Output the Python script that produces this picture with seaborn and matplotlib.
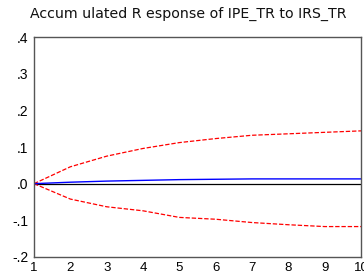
import matplotlib
matplotlib.use("Agg")
import matplotlib.pyplot as plt
import seaborn as sns
import pandas as pd

periods = [1, 2, 3, 4, 5, 6, 7, 8, 9, 10]
response = [0.0, 0.004, 0.007, 0.009, 0.011, 0.012, 0.013, 0.013, 0.013, 0.013]
upper = [0.0, 0.046, 0.075, 0.096, 0.112, 0.123, 0.132, 0.136, 0.140, 0.144]
lower = [0.0, -0.042, -0.063, -0.074, -0.092, -0.097, -0.106, -0.112, -0.117, -0.117]
yticks = [-0.2, -0.1, 0.0, 0.1, 0.2, 0.3, 0.4]
ytick_labels = ["-.2", "-.1", ".0", ".1", ".2", ".3", ".4"]
title = "Accum ulated R esponse of IPE_TR to IRS_TR"

sns.set_theme(style="white")
plt.rcParams['font.family'] = ['Liberation Sans', 'DejaVu Sans']

df = pd.DataFrame({"period": periods, "response": response, "upper": upper, "lower": lower})

fig = plt.figure(figsize=(3.64, 2.75), dpi=100)
ax = fig.add_axes([34/364, 1 - 257/275, (361-34)/364, (257-37)/275])

ax.axhline(0, color="black", lw=0.9, zorder=1)
sns.lineplot(data=df, x="period", y="upper", ax=ax, color="red", lw=0.9, linestyle=(0, (3.5, 1.5)))
sns.lineplot(data=df, x="period", y="lower", ax=ax, color="red", lw=0.9, linestyle=(0, (3.5, 1.5)))
sns.lineplot(data=df, x="period", y="response", ax=ax, color="blue", lw=1.0)

ax.set_xlim(1, 10)
ax.set_ylim(-0.2, 0.4)
ax.set_xticks(periods)
ax.set_xticklabels([str(p) for p in periods])
ax.set_yticks(yticks)
ax.set_yticklabels(ytick_labels)
ax.set_xlabel("")
ax.set_ylabel("")
for s in ax.spines.values():
    s.set_color("#555555")
    s.set_linewidth(1.0)
ax.tick_params(axis="both", direction="out", length=3, width=1, color="#555555",
               pad=1, colors="#555555", labelcolor="black")
ax.tick_params(axis="y", labelsize=10)
ax.tick_params(axis="x", labelsize=9.5, pad=0.5)
fig.text(30/364, 1 - 14/275, title, fontsize=10.2, ha="left", va="center",
         family=["DejaVu Sans"], color="#111111")

fig.savefig("out.png", dpi=100)
